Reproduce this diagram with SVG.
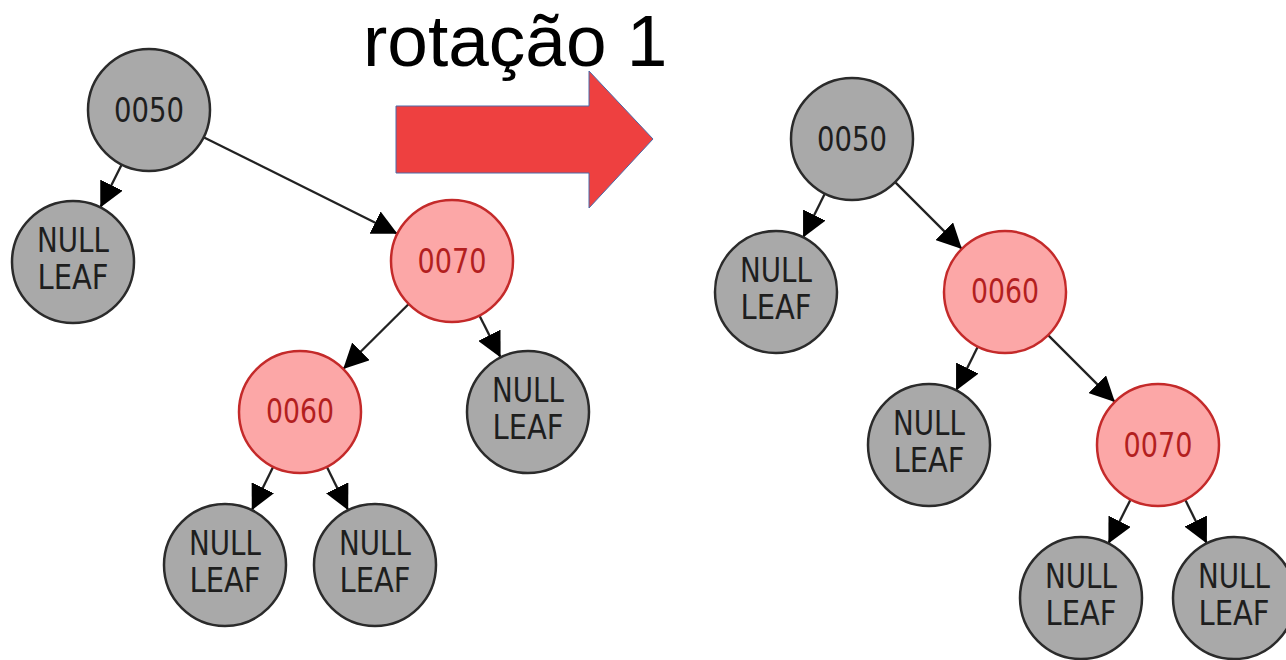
<svg xmlns="http://www.w3.org/2000/svg" width="1286" height="660" viewBox="0 0 1286 660">
<defs>
<style>
.g circle{fill:#a9a9a9;stroke:#2b2b2b;stroke-width:2.5}
.r circle{fill:#fca7a7;stroke:#c42a2a;stroke-width:2.5}
.g text{fill:#1e1e1e}
.r text{fill:#b31f1f}
text.n{font-family:"DejaVu Sans",Verdana,sans-serif;font-size:33px;text-anchor:middle}
#edges line{stroke:#222;stroke-width:2.3;marker-end:url(#ah)}
.title{font-family:"Liberation Sans",Arial,sans-serif;font-size:73px;fill:#000}
</style>
<marker id="ah" viewBox="0 0 10 10" refX="10" refY="5" markerUnits="userSpaceOnUse" markerWidth="25" markerHeight="25" orient="auto">
<path d="M0,0 L10,5 L0,10 z" fill="#000"/>
</marker>
</defs>
<rect width="1286" height="660" fill="#fff"/>
<text class="title" x="363" y="66">rotação 1</text>
<g id="arrow">
<polygon points="396,106 589,106 589,71 653,139 589,208 589,173 396,173" fill="#ee4040" stroke="#4a6aa8" stroke-width="1"/>
</g>
<g id="edges">
<line x1="121.7" y1="164.5" x2="100.3" y2="207.5"/>
<line x1="203.6" y1="137.2" x2="397.4" y2="233.8"/>
<line x1="408.7" y1="304" x2="343.2" y2="369"/>
<line x1="479.4" y1="315.5" x2="500.6" y2="357.5"/>
<line x1="273.2" y1="466.8" x2="251.8" y2="510.2"/>
<line x1="326.8" y1="466.8" x2="348.2" y2="510.2"/>
<line x1="824.9" y1="193.6" x2="803.1" y2="237.4"/>
<line x1="895.1" y1="182.1" x2="961.9" y2="248.9"/>
<line x1="977.9" y1="346.6" x2="956.1" y2="390.4"/>
<line x1="1048.1" y1="335.1" x2="1114.9" y2="401.9"/>
<line x1="1130.6" y1="499.5" x2="1108.4" y2="543.5"/>
<line x1="1185.1" y1="499.6" x2="1206.9" y2="543.4"/>
</g>
<g id="L0050" class="g"><circle cx="149" cy="110" r="61"/><text class="n" x="149" y="122" textLength="70" lengthAdjust="spacingAndGlyphs">0050</text></g>
<g id="Lnull1" class="g"><circle cx="73" cy="262" r="61"/><text class="n" x="73" y="252" textLength="72" lengthAdjust="spacingAndGlyphs">NULL</text><text class="n" x="73" y="289" textLength="71" lengthAdjust="spacingAndGlyphs">LEAF</text></g>
<g id="L0070" class="r"><circle cx="452" cy="261" r="61"/><text class="n" x="452" y="273" textLength="69" lengthAdjust="spacingAndGlyphs">0070</text></g>
<g id="Lnull2" class="g"><circle cx="528" cy="412" r="61"/><text class="n" x="528" y="402" textLength="72" lengthAdjust="spacingAndGlyphs">NULL</text><text class="n" x="528" y="439" textLength="71" lengthAdjust="spacingAndGlyphs">LEAF</text></g>
<g id="L0060" class="r"><circle cx="300" cy="412" r="61"/><text class="n" x="300" y="423" textLength="68" lengthAdjust="spacingAndGlyphs">0060</text></g>
<g id="Lnull3" class="g"><circle cx="225" cy="565" r="61"/><text class="n" x="225" y="555" textLength="72" lengthAdjust="spacingAndGlyphs">NULL</text><text class="n" x="225" y="592" textLength="71" lengthAdjust="spacingAndGlyphs">LEAF</text></g>
<g id="Lnull4" class="g"><circle cx="375" cy="565" r="61"/><text class="n" x="375" y="555" textLength="72" lengthAdjust="spacingAndGlyphs">NULL</text><text class="n" x="375" y="592" textLength="71" lengthAdjust="spacingAndGlyphs">LEAF</text></g>
<g id="R0050" class="g"><circle cx="852" cy="139" r="61"/><text class="n" x="852" y="151" textLength="70" lengthAdjust="spacingAndGlyphs">0050</text></g>
<g id="Rnull1" class="g"><circle cx="776" cy="292" r="61"/><text class="n" x="776" y="282" textLength="72" lengthAdjust="spacingAndGlyphs">NULL</text><text class="n" x="776" y="319" textLength="71" lengthAdjust="spacingAndGlyphs">LEAF</text></g>
<g id="R0060" class="r"><circle cx="1005" cy="292" r="61"/><text class="n" x="1005" y="303" textLength="68" lengthAdjust="spacingAndGlyphs">0060</text></g>
<g id="Rnull2" class="g"><circle cx="929" cy="445" r="61"/><text class="n" x="929" y="435" textLength="72" lengthAdjust="spacingAndGlyphs">NULL</text><text class="n" x="929" y="472" textLength="71" lengthAdjust="spacingAndGlyphs">LEAF</text></g>
<g id="R0070" class="r"><circle cx="1158" cy="445" r="61"/><text class="n" x="1158" y="457" textLength="69" lengthAdjust="spacingAndGlyphs">0070</text></g>
<g id="Rnull3" class="g"><circle cx="1081" cy="598" r="61"/><text class="n" x="1081" y="588" textLength="72" lengthAdjust="spacingAndGlyphs">NULL</text><text class="n" x="1081" y="625" textLength="71" lengthAdjust="spacingAndGlyphs">LEAF</text></g>
<g id="Rnull4" class="g"><circle cx="1234" cy="598" r="61"/><text class="n" x="1234" y="588" textLength="72" lengthAdjust="spacingAndGlyphs">NULL</text><text class="n" x="1234" y="625" textLength="71" lengthAdjust="spacingAndGlyphs">LEAF</text></g>
</svg>
